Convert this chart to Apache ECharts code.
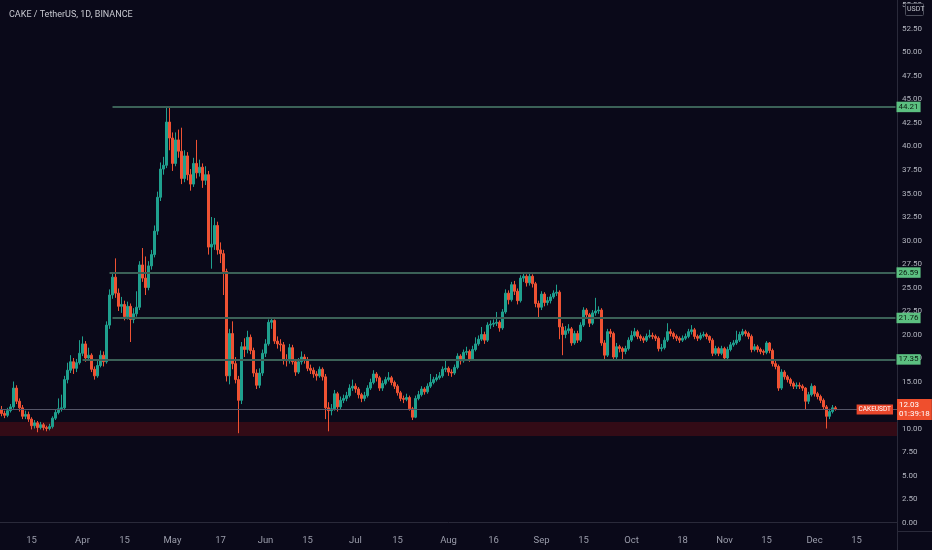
<!DOCTYPE html>
<html><head><meta charset="utf-8">
<script src="https://cdn.jsdelivr.net/npm/echarts@6/dist/echarts.min.js"></script>
<style>html,body{margin:0;padding:0;background:#0a0919;}#c{width:932px;height:550px;}</style>
</head><body><div id="c"></div>
<script>
// ---------- data ----------
const startDate = '2021-03-05';
const categoryCount = 299; // daily slots shown on the axis (Mar 5 .. Dec 28)

const open = [
12.0,11.6,11.4,11.9,12.3,14.3,12.9,12.2,11.3,11.5,
11.0,10.3,10.6,10.1,10.4,10.1,10.0,10.2,11.1,11.7,
12.1,12.2,15.2,16.2,17.1,16.4,17.0,18.0,19.0,17.5,
17.8,16.3,15.6,16.7,17.8,17.1,21.0,24.2,26.1,24.4,
23.0,23.2,21.9,23.0,21.6,22.2,22.9,27.4,26.0,25.0,
27.3,28.5,31.0,34.6,37.6,38.0,42.6,40.9,38.2,40.7,
39.5,36.6,39.0,37.0,36.0,38.2,37.2,37.8,36.4,37.0,
29.3,29.6,31.6,29.0,28.6,26.7,15.6,20.1,16.9,15.2,
13.0,18.7,18.4,19.7,18.3,15.9,14.6,15.9,18.0,19.0,
21.3,21.5,19.3,19.0,18.9,17.3,17.2,18.6,17.1,16.0,
17.1,17.6,17.3,16.4,16.2,15.8,15.6,16.3,15.5,12.2,
11.9,12.1,13.7,12.3,13.0,13.2,13.5,14.3,14.5,14.2,
13.6,13.2,13.5,14.3,14.9,15.8,15.4,14.3,14.8,15.2,
15.4,14.9,14.5,13.8,13.2,13.1,13.3,12.1,11.2,13.2,
13.6,14.2,13.9,14.5,14.9,15.2,15.4,15.6,16.3,16.4,
16.0,15.9,16.5,17.7,17.2,18.1,18.2,17.4,18.4,19.0,
19.5,20.0,19.4,21.0,21.1,21.2,21.3,20.7,22.4,24.4,
23.7,25.3,24.6,23.6,26.0,26.2,25.5,26.2,25.4,23.3,
22.9,24.3,23.4,23.6,24.0,24.4,24.5,20.8,20.0,20.4,
20.6,19.1,20.1,19.4,21.0,22.6,22.1,21.2,22.3,22.5,
22.6,19.1,17.8,20.3,20.1,17.6,18.7,18.5,18.2,18.5,
19.4,19.9,20.3,19.8,19.6,19.4,19.8,19.9,19.8,19.6,
18.5,18.6,19.4,20.3,20.1,19.8,19.6,19.4,19.6,19.8,
20.3,20.5,19.8,19.6,19.9,20.0,19.8,19.4,18.0,18.5,
18.0,18.5,17.5,18.4,18.9,19.1,19.4,20.0,20.3,20.1,
19.8,18.4,18.7,18.4,18.2,18.1,19.1,18.3,16.9,16.6,
14.3,16.0,15.5,15.2,14.8,14.5,14.6,14.5,14.3,12.9,
13.6,14.5,13.7,13.4,13.0,12.3,11.3,11.8,12.2
];
const close = [
11.6,11.4,11.9,12.3,14.3,12.9,12.2,11.3,11.5,11.0,
10.3,10.6,10.1,10.4,10.1,10.0,10.2,11.1,11.7,12.1,
12.2,15.2,16.2,17.1,16.4,17.0,18.0,19.0,17.5,17.8,
16.3,15.6,16.7,17.8,17.1,21.0,24.2,26.1,24.4,23.0,
23.2,21.9,23.0,21.6,22.2,22.9,27.4,26.0,25.0,27.3,
28.5,31.0,34.6,37.6,38.0,42.6,40.9,38.2,40.7,39.5,
36.6,39.0,37.0,36.0,38.2,37.2,37.8,36.4,37.0,29.3,
29.6,31.6,29.0,28.6,26.7,15.6,20.1,16.9,15.2,13.0,
18.7,18.4,19.7,18.3,15.9,14.6,15.9,18.0,19.0,21.3,
21.5,19.3,19.0,18.9,17.3,17.2,18.6,17.1,16.0,17.1,
17.6,17.3,16.4,16.2,15.8,15.6,16.3,15.5,12.2,11.9,
12.1,13.7,12.3,13.0,13.2,13.5,14.3,14.5,14.2,13.6,
13.2,13.5,14.3,14.9,15.8,15.4,14.3,14.8,15.2,15.4,
14.9,14.5,13.8,13.2,13.1,13.3,12.1,11.2,13.2,13.6,
14.2,13.9,14.5,14.9,15.2,15.4,15.6,16.3,16.4,16.0,
15.9,16.5,17.7,17.2,18.1,18.2,17.4,18.4,19.0,19.5,
20.0,19.4,21.0,21.1,21.2,21.3,20.7,22.4,24.4,23.7,
25.3,24.6,23.6,26.0,26.2,25.5,26.2,25.4,23.3,22.9,
24.3,23.4,23.6,24.0,24.4,24.5,20.8,20.0,20.4,20.6,
19.1,20.1,19.4,21.0,22.6,22.1,21.2,22.3,22.5,22.6,
19.1,17.8,20.3,20.1,17.6,18.7,18.5,18.2,18.5,19.4,
19.9,20.3,19.8,19.6,19.4,19.8,19.9,19.8,19.6,18.5,
18.6,19.4,20.3,20.1,19.8,19.6,19.4,19.6,19.8,20.3,
20.5,19.8,19.6,19.9,20.0,19.8,19.4,18.0,18.5,18.0,
18.5,17.5,18.4,18.9,19.1,19.4,20.0,20.3,20.1,19.8,
18.4,18.7,18.4,18.2,18.1,19.1,18.3,16.9,16.6,14.3,
16.0,15.5,15.2,14.8,14.5,14.6,14.5,14.3,12.9,13.6,
14.5,13.7,13.4,13.0,12.3,11.3,11.8,12.2,12.03
];
const high = [
12.4,11.9,12.2,12.6,15.0,14.6,13.2,12.5,11.9,11.8,
11.2,10.9,10.8,10.7,10.6,10.3,10.5,11.3,12.0,13.2,
13.6,15.6,17.0,17.8,17.5,17.4,19.4,19.8,19.3,18.6,
18.0,16.6,17.2,18.3,18.2,21.4,24.8,26.6,28.1,24.9,
24.0,23.6,23.5,23.3,22.8,24.6,27.8,29.2,28.3,27.8,
29.0,31.6,35.2,38.3,38.9,44.2,44.2,41.5,41.5,41.8,
42.0,39.6,39.4,37.6,38.8,40.7,38.6,38.2,37.9,37.4,
32.5,32.4,32.0,29.8,29.0,27.0,20.6,21.4,17.6,15.6,
19.2,19.6,20.4,20.0,18.6,16.3,16.4,18.4,19.5,21.6,
21.7,21.6,19.8,19.5,19.2,17.9,19.0,18.9,17.4,17.5,
18.2,17.9,17.6,16.8,16.5,16.1,16.6,16.5,15.8,12.8,
12.6,14.1,13.9,13.4,13.6,13.9,14.7,15.2,14.8,14.4,
13.8,13.9,14.6,15.3,16.2,16.0,15.6,15.1,15.5,16.0,
15.6,15.1,14.7,14.0,13.5,13.7,13.5,12.3,13.5,14.0,
14.5,14.4,14.8,15.8,15.5,15.8,16.0,16.6,17.2,16.6,
16.3,16.8,18.0,17.9,18.4,18.7,18.4,18.8,19.7,19.9,
20.8,20.3,21.3,21.5,21.6,22.4,21.5,22.7,24.8,24.7,
25.6,25.7,24.9,26.3,26.6,26.4,26.5,26.4,25.6,23.6,
24.6,24.5,24.0,24.3,24.7,25.3,24.7,21.2,20.9,21.1,
20.8,20.4,20.4,21.3,22.9,22.8,22.3,22.6,23.9,23.0,
22.8,19.4,20.6,20.6,20.3,19.1,18.9,18.7,18.8,19.7,
20.4,20.7,20.5,20.0,19.8,20.1,20.5,20.2,20.0,19.8,
19.0,19.7,21.2,20.6,20.3,20.0,19.8,19.9,20.1,20.6,
21.0,20.7,20.0,20.2,20.3,20.2,19.9,19.6,18.8,18.7,
18.8,18.7,18.7,19.2,19.4,20.4,20.3,20.6,20.5,20.3,
20.0,19.0,18.9,18.6,18.4,19.3,19.2,18.5,17.2,16.8,
16.3,16.2,15.7,15.4,15.0,14.9,14.9,14.7,14.4,13.9,
14.8,14.6,13.9,13.6,13.2,12.5,12.1,12.5,12.4
];
const low = [
11.3,11.1,11.2,11.7,12.1,12.6,11.8,11.0,11.0,10.7,
9.9,10.0,9.6,9.9,9.8,9.7,9.8,10.0,10.9,11.5,
11.8,12.0,14.8,15.9,15.8,16.0,16.8,17.7,17.1,17.2,
16.0,15.2,15.4,16.5,16.6,16.9,20.6,23.8,23.9,22.5,
22.3,21.5,21.6,19.2,21.2,21.9,22.6,25.6,24.2,24.7,
26.9,28.2,30.6,34.2,37.0,37.7,39.6,37.4,37.9,38.8,
36.0,36.2,36.4,35.3,35.7,36.6,36.8,35.6,35.9,28.5,
27.0,29.0,28.5,27.6,24.2,15.0,14.7,16.3,14.8,9.5,
12.6,17.6,18.0,17.9,15.5,14.2,14.3,15.6,17.6,18.8,
20.6,19.0,18.5,18.2,16.8,16.6,16.9,16.8,15.6,15.8,
16.8,16.9,16.1,15.8,15.4,15.1,15.4,15.1,11.0,9.7,
11.4,11.9,11.8,12.0,12.7,12.9,13.3,14.0,13.8,13.2,
12.8,12.9,13.3,14.1,14.7,15.0,14.0,14.0,14.6,15.0,
14.6,14.2,13.5,12.9,12.7,12.9,11.9,10.9,11.1,13.0,
13.4,13.6,13.7,14.3,14.7,15.0,15.2,15.4,16.0,15.6,
15.5,15.7,16.3,16.8,17.0,17.8,17.1,17.2,18.2,18.8,
19.3,19.0,19.2,20.6,20.8,20.9,20.3,20.5,22.2,23.2,
23.5,24.2,23.2,23.4,25.6,25.1,25.2,25.0,22.9,21.8,
22.6,23.0,23.1,23.3,23.8,24.1,19.5,17.8,19.6,20.1,
18.8,18.9,19.1,19.2,20.8,21.8,20.8,21.0,22.0,22.2,
18.8,17.4,17.6,19.7,17.4,17.4,18.1,17.2,17.9,18.3,
19.2,19.7,19.5,19.3,19.1,19.2,19.6,19.5,19.3,18.2,
18.2,18.4,19.2,19.8,19.5,19.3,19.1,19.2,19.4,19.6,
20.0,19.5,19.3,19.4,19.7,19.5,19.1,17.7,17.8,17.7,
17.8,17.2,17.3,18.2,18.7,18.9,19.2,19.8,19.8,19.5,
18.1,18.2,18.1,17.9,17.8,17.9,18.0,16.6,16.3,14.0,
14.1,15.2,14.9,14.5,14.2,14.2,14.2,14.0,12.0,12.6,
13.4,13.4,13.1,12.7,12.0,10.0,11.0,11.6,11.9
];

const levelValues = [44.21, 26.59, 21.76, 17.35];
const levelStarts = ['2021-04-11', '2021-04-10', '2021-04-11', '2021-04-01'];
const zoneLow = 9.2, zoneHigh = 10.7;
const symbolName = 'CAKEUSDT';
const countdown = '01:39:18';
const titleText = 'CAKE / TetherUS, 1D, BINANCE';
const yTicks = [0,2.5,5,7.5,10,12.5,15,17.5,20,22.5,25,27.5,30,32.5,35,37.5,40,42.5,45,47.5,50,52.5,55];
const yMin = -0.904, yMax = 55.585;
const xTickDates = ['2021-03-15','2021-04-01','2021-04-15','2021-05-01','2021-05-17','2021-06-01','2021-06-15','2021-07-01','2021-07-15','2021-08-01','2021-08-16','2021-09-01','2021-09-15','2021-10-01','2021-10-18','2021-11-01','2021-11-15','2021-12-01','2021-12-15'];
const xTickTexts = ['15','Apr','15','May','17','Jun','15','Jul','15','Aug','16','Sep','15','Oct','18','Nov','15','Dec','15'];

// ---------- build ----------
const UP = '#1fa08e', DOWN = '#ef5233', BG = '#0a0919', SEP = '#2a2a3a', LEVEL = '#3b6157';
const t0 = Date.parse(startDate + 'T00:00:00Z');
const dates = [];
for (let i = 0; i < categoryCount; i++) dates.push(new Date(t0 + i * 86400000).toISOString().slice(0, 10));
const lastCat = dates[dates.length - 1];
const tickMap = {};
xTickDates.forEach((d, i) => tickMap[d] = xTickTexts[i]);
const candles = open.map((o, i) => [o, close[i], low[i], high[i]]);
const lastPrice = close[close.length - 1];
const FONT = "'Roboto','Liberation Sans',sans-serif";

const levelLines = levelValues.map((v, i) => [
  { xAxis: levelStarts[i], yAxis: v,
    lineStyle: { color: LEVEL, width: 2, type: 'solid' },
    label: { show: true, position: 'end', distance: 1, formatter: () => v.toFixed(2),
      backgroundColor: '#5cc081', color: '#0d1f14', fontSize: 8, fontFamily: FONT,
      padding: [1, 2, 0, 2], lineHeight: 9.5 } },
  { xAxis: lastCat, yAxis: v }
]);

const chart = echarts.init(document.getElementById('c'), null, { renderer: 'canvas' });
chart.setOption({
  backgroundColor: BG,
  animation: false,
  title: { text: titleText, left: 4, top: 5,
    textStyle: { color: '#c7c8d0', fontSize: 9, fontWeight: 'normal', fontFamily: FONT } },
  grid: { left: 0, right: 35, top: 0, bottom: 19, containLabel: false, outerBoundsMode: 'none' },
  xAxis: {
    type: 'category', data: dates, boundaryGap: true,
    axisLine: { show: true, lineStyle: { color: SEP, width: 1 } },
    axisTick: { show: false },
    splitLine: { show: false },
    axisLabel: { color: '#9b9dab', fontSize: 9.5, fontFamily: FONT, margin: 5,
      interval: (idx, val) => tickMap[val] !== undefined,
      formatter: val => tickMap[val] || '' }
  },
  yAxis: {
    type: 'value', position: 'right', min: yMin, max: yMax, scale: true,
    axisLine: { show: true, lineStyle: { color: SEP, width: 1 } },
    axisTick: { show: false },
    splitLine: { show: false },
    axisLabel: { customValues: yTicks, color: '#b4b6c0', fontSize: 8, fontFamily: FONT, margin: 5,
      formatter: v => v.toFixed(2) }
  },
  series: [{
    type: 'candlestick',
    data: candles,
    barWidth: '55%',
    clip: false,
    itemStyle: { color: UP, color0: DOWN, borderColor: UP, borderColor0: DOWN, borderWidth: 1 },
    markArea: { silent: true, z: 1, itemStyle: { color: '#330b16' },
      data: [[{ yAxis: zoneLow }, { yAxis: zoneHigh }]] },
    markLine: {
      silent: true, symbol: ['none', 'none'], animation: false,
      data: levelLines.concat([
        { yAxis: lastPrice, lineStyle: { color: '#555668', width: 1, type: 'solid' },
          label: { show: true, position: 'end', distance: 0,
            formatter: () => lastPrice.toFixed(2) + '\n' + countdown,
            backgroundColor: '#ef4f2d', color: '#ffffff', fontSize: 8, fontFamily: FONT,
            padding: [1, 2, 1, 2], lineHeight: 9.5 } },
        { yAxis: lastPrice, lineStyle: { color: '#555668', width: 1, type: 'solid' },
          label: { show: true, position: 'insideEndTop', distance: [4, -5], formatter: symbolName,
            backgroundColor: '#e8462b', color: '#ffffff', fontSize: 6.5, fontFamily: FONT,
            padding: [1, 2, 1, 2], lineHeight: 8 } }
      ])
    }
  }],
  graphic: [
    { type: 'line', shape: { x1: 897.5, y1: 531, x2: 897.5, y2: 550 }, style: { stroke: SEP, lineWidth: 1 } },
    { type: 'line', shape: { x1: 897, y1: 531.5, x2: 932, y2: 531.5 }, style: { stroke: SEP, lineWidth: 1 } },
    { type: 'rect', left: 905, top: 3, shape: { width: 18, height: 12, r: 1 },
      style: { fill: BG, stroke: '#4d4f5c', lineWidth: 1 }, z: 10 },
    { type: 'text', left: 907, top: 5.5, style: { text: 'USDT', fill: '#c2c4cc', fontSize: 7, fontFamily: FONT }, z: 11 }
  ]
});
</script></body></html>
